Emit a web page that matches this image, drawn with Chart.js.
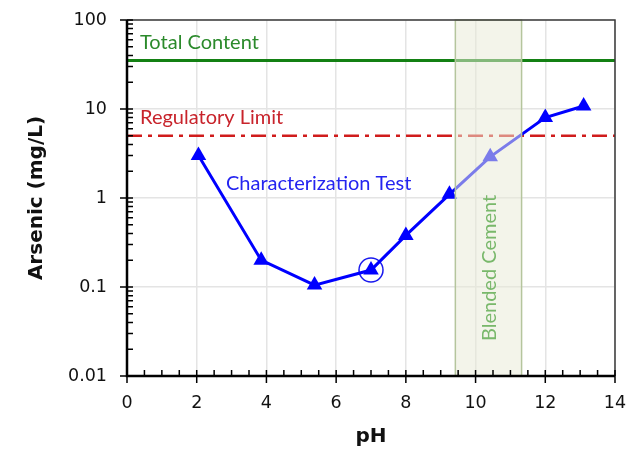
<!DOCTYPE html>
<html>
<head>
<meta charset="utf-8">
<script src="https://cdn.jsdelivr.net/npm/chart.js@4.4.0/dist/chart.umd.min.js"></script>
<style>
    html, body { margin: 0; padding: 0; background: #fff; }
</style>
</head>
<body>
<canvas id="chart" width="629" height="449"></canvas>
<script>
const phValues = [2.05, 3.85, 5.38, 7.0, 8.0, 9.25, 10.42, 12.0, 13.1];
const arsenicValues = [3.0, 0.2, 0.105, 0.155, 0.38, 1.1, 2.9, 8.0, 10.8];
const circledPh = [7.0];
const circledArsenic = [0.155];
const totalContent = 35;
const regulatoryLimit = 5;
const cementRange = [9.42, 11.32];
const xTicks = [0, 2, 4, 6, 8, 10, 12, 14];
const yTicks = [0.01, 0.1, 1, 10, 100];

const tickFont = { family: "DejaVu Sans", size: 17.5 };
const titleFont = { family: "DejaVu Sans", size: 20, weight: "bold" };

function pairs(xs, ys) {
    return xs.map((x, i) => ({ x: x, y: ys[i] }));
}

const decorPlugin = {
    id: "decor",
    afterDatasetsDraw(chart) {
        const { ctx, chartArea: a, scales: { x } } = chart;
        const x0 = x.getPixelForValue(cementRange[0]);
        const x1 = x.getPixelForValue(cementRange[1]);

        // semi transparent band over the lines
        ctx.save();
        ctx.fillStyle = "rgba(232, 234, 215, 0.53)";
        ctx.fillRect(x0, a.top, x1 - x0, a.bottom - a.top);
        ctx.strokeStyle = "#b5c59d";
        ctx.lineWidth = 1.5;
        ctx.strokeRect(x0, a.top, x1 - x0, a.bottom - a.top);
        ctx.restore();
    },
    afterDraw(chart) {
        const { ctx, chartArea: a, scales: { x, y } } = chart;
        ctx.save();

        // frame: top/right thin, left/bottom heavy
        ctx.strokeStyle = "#3a3a3a";
        ctx.lineWidth = 1.5;
        ctx.beginPath();
        ctx.moveTo(a.left, a.top);
        ctx.lineTo(a.right, a.top);
        ctx.lineTo(a.right, a.bottom);
        ctx.stroke();

        ctx.strokeStyle = "#000";
        ctx.lineWidth = 2.5;
        ctx.beginPath();
        ctx.moveTo(a.left, a.top);
        ctx.lineTo(a.left, a.bottom);
        ctx.lineTo(a.right, a.bottom);
        ctx.stroke();

        // x ticks: major cross the axis, minor point inward
        ctx.lineWidth = 1.5;
        ctx.beginPath();
        for (let v = 0; v <= 14; v += 0.5) {
            const px = x.getPixelForValue(v);
            const major = xTicks.includes(v);
            ctx.moveTo(px, a.bottom - 6);
            ctx.lineTo(px, a.bottom + (major ? 7 : 0));
        }
        // y ticks
        for (let d = 0; d < yTicks.length; d++) {
            const py = y.getPixelForValue(yTicks[d]);
            ctx.moveTo(a.left - 7, py);
            ctx.lineTo(a.left + 6, py);
            if (d < yTicks.length - 1) {
                for (let m = 2; m <= 9; m++) {
                    const pm = y.getPixelForValue(yTicks[d] * m);
                    ctx.moveTo(a.left, pm);
                    ctx.lineTo(a.left + 6, pm);
                }
            }
        }
        ctx.stroke();

        // labels
        ctx.font = "20px Lato";
        ctx.textBaseline = "alphabetic";
        ctx.textAlign = "left";
        ctx.fillStyle = "#2b8a2b";
        ctx.fillText("Total Content", a.left + 13, 49);
        ctx.fillStyle = "#c8232b";
        ctx.fillText("Regulatory Limit", a.left + 13, 124);
        ctx.fillStyle = "#2424f0";
        ctx.fillText("Characterization Test", a.left + 99, 190);

        const cx = (x.getPixelForValue(cementRange[0]) + x.getPixelForValue(cementRange[1])) / 2;
        ctx.translate(cx + 8, 341);
        ctx.rotate(-Math.PI / 2);
        ctx.fillStyle = "#79b86b";
        ctx.fillText("Blended Cement", 0, 0);
        ctx.restore();
    }
};

const config = {
    type: "scatter",
    data: {
        datasets: [
            {
                label: "Characterization Test",
                data: pairs(phValues, arsenicValues),
                showLine: true,
                borderColor: "#0000ff",
                backgroundColor: "#0000ff",
                borderWidth: 3,
                pointStyle: "triangle",
                pointRadius: 9,
                pointBorderWidth: 0,
            },
            {
                label: "circled",
                data: pairs(circledPh, circledArsenic),
                showLine: false,
                pointStyle: "circle",
                pointRadius: 12,
                backgroundColor: "rgba(0,0,0,0)",
                borderColor: "#1a1aee",
                pointBorderWidth: 1.5,
            },
            {
                label: "Total Content",
                data: pairs([0, 14], [totalContent, totalContent]),
                showLine: true,
                borderColor: "#138013",
                borderWidth: 3,
                pointRadius: 0,
            },
            {
                label: "Regulatory Limit",
                data: pairs([0, 14], [regulatoryLimit, regulatoryLimit]),
                showLine: true,
                borderColor: "#d01c1c",
                borderWidth: 2.5,
                borderDash: [15, 6, 4, 6],
                pointRadius: 0,
            },
        ],
    },
    options: {
        responsive: false,
        animation: false,
        layout: { autoPadding: false, padding: { top: 20, right: 14, left: 0, bottom: 0 } },
        plugins: {
            legend: { display: false },
            tooltip: { enabled: false },
        },
        scales: {
            x: {
                type: "linear",
                min: 0,
                max: 14,
                afterFit: (scale) => {
                    scale.height = 73;
                    scale.paddingLeft = 0;
                    scale.paddingRight = 0;
                },
                afterBuildTicks: (scale) => { scale.ticks = xTicks.map(v => ({ value: v })); },
                ticks: { font: tickFont, color: "#111", padding: 17 },
                grid: { color: "#e4e4e4", lineWidth: 1.5, drawTicks: false },
                border: { display: false },
                title: { display: true, text: "pH", font: titleFont, color: "#111", padding: { top: 0, bottom: 0 } },
            },
            y: {
                type: "logarithmic",
                min: 0.01,
                max: 100,
                afterFit: (scale) => {
                    scale.width = 127;
                    scale.paddingTop = 0;
                    scale.paddingBottom = 0;
                },
                afterBuildTicks: (scale) => { scale.ticks = yTicks.map(v => ({ value: v })); },
                ticks: { font: tickFont, color: "#111", padding: 20, callback: (v) => String(v) },
                grid: { color: "#e4e4e4", lineWidth: 1.5, drawTicks: false },
                border: { display: false },
                title: { display: true, text: "Arsenic (mg/L)", font: titleFont, color: "#111", padding: { top: 25, bottom: 0 } },
            },
        },
    },
    plugins: [decorPlugin],
};

new Chart(document.getElementById("chart"), config);
</script>
</body>
</html>
